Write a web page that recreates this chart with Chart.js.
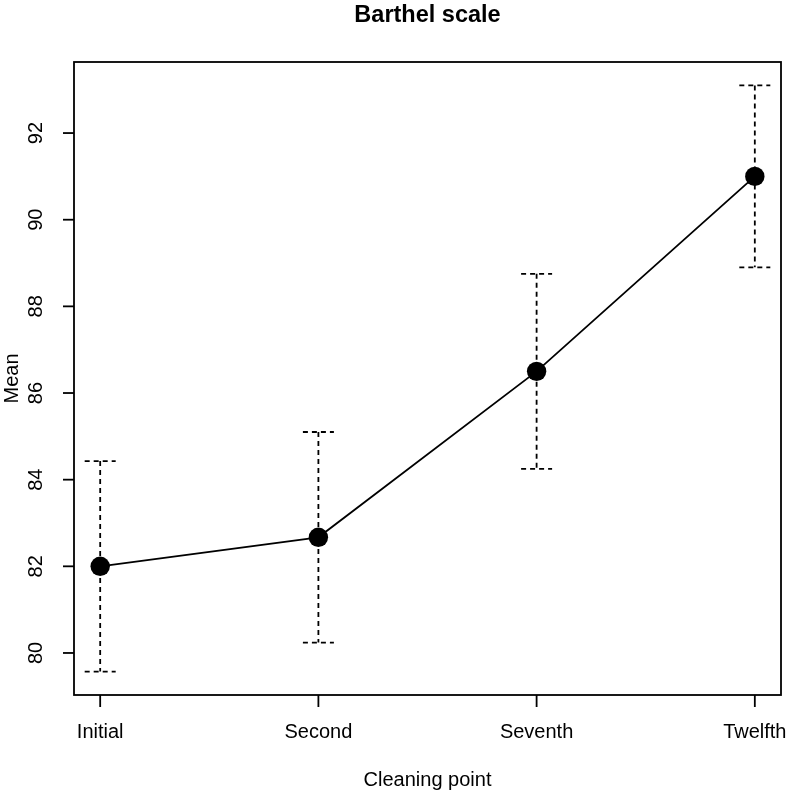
<!DOCTYPE html>
<html>
<head>
<meta charset="utf-8">
<script src="https://cdn.jsdelivr.net/npm/chart.js@4"></script>
<style>
    html, body { margin: 0; padding: 0; background: #fff; }
    #wrap { width: 787px; height: 795px; }
</style>
</head>
<body>
<div id="wrap"><canvas id="chart" width="787" height="795"></canvas></div>
<script>
    const categories = ["Initial", "Second", "Seventh", "Twelfth"];
    const meanValues = [82.0, 82.67, 86.5, 91.0];
    const lowerValues = [79.57, 80.24, 84.25, 88.9];
    const upperValues = [84.43, 85.1, 88.75, 93.1];
    const yTicks = [80, 82, 84, 86, 88, 90, 92];

    const FONT = "'Liberation Sans', Arial, Helvetica, sans-serif";

    // barras de erro tracejadas
    const errorBars = {
        id: "errorBars",
        beforeDatasetsDraw(chart) {
            const { ctx, scales: { x, y } } = chart;
            ctx.save();
            ctx.strokeStyle = "#000";
            ctx.lineWidth = 1.8;
            ctx.setLineDash([5, 4]);
            categories.forEach((c, i) => {
                const px = x.getPixelForValue(i + 1);
                const top = y.getPixelForValue(upperValues[i]);
                const bot = y.getPixelForValue(lowerValues[i]);
                ctx.beginPath();
                ctx.moveTo(px, top); ctx.lineTo(px, bot);
                ctx.moveTo(px - 15.5, top); ctx.lineTo(px + 15.5, top);
                ctx.moveTo(px - 15.5, bot); ctx.lineTo(px + 15.5, bot);
                ctx.stroke();
            });
            ctx.restore();
        }
    };

    // caixa, eixos e textos no estilo R
    const rAxes = {
        id: "rAxes",
        afterDraw(chart) {
            const { ctx, chartArea: a, scales: { x, y } } = chart;
            ctx.save();
            ctx.strokeStyle = "#000";
            ctx.fillStyle = "#000";
            ctx.lineWidth = 1.8;
            ctx.strokeRect(a.left, a.top, a.right - a.left, a.bottom - a.top);

            ctx.font = "20px " + FONT;
            ctx.textAlign = "center";
            ctx.textBaseline = "middle";
            categories.forEach((c, i) => {
                const px = x.getPixelForValue(i + 1);
                ctx.beginPath();
                ctx.moveTo(px, a.bottom); ctx.lineTo(px, a.bottom + 12);
                ctx.stroke();
                ctx.fillText(c, px, a.bottom + 37);
            });

            yTicks.forEach(v => {
                const py = y.getPixelForValue(v);
                ctx.beginPath();
                ctx.moveTo(a.left, py); ctx.lineTo(a.left - 11, py);
                ctx.stroke();
                ctx.save();
                ctx.translate(36, py);
                ctx.rotate(-Math.PI / 2);
                ctx.fillText(String(v), 0, 0);
                ctx.restore();
            });

            ctx.fillText("Cleaning point", (a.left + a.right) / 2, 780);
            ctx.save();
            ctx.translate(12, (a.top + a.bottom) / 2);
            ctx.rotate(-Math.PI / 2);
            ctx.fillText("Mean", 0, 0);
            ctx.restore();

            ctx.font = "bold 23.5px " + FONT;
            ctx.fillText("Barthel scale", (a.left + a.right) / 2, 16);
            ctx.restore();
        }
    };

    new Chart(document.getElementById("chart").getContext("2d"), {
        type: "line",
        data: {
            datasets: [{
                data: meanValues.map((v, i) => ({ x: i + 1, y: v })),
                borderColor: "#000",
                borderWidth: 1.8,
                backgroundColor: "#000",
                pointBackgroundColor: "#000",
                pointBorderWidth: 0,
                pointRadius: 9.7,
                tension: 0,
                fill: false
            }]
        },
        options: {
            responsive: false,
            animation: false,
            devicePixelRatio: 1,
            layout: { autoPadding: false, padding: { left: 74, top: 62, right: 6, bottom: 100 } },
            plugins: { legend: { display: false }, tooltip: { enabled: false }, title: { display: false } },
            scales: {
                x: { type: "linear", min: 0.88, max: 4.12, display: false },
                y: { type: "linear", min: 79.03, max: 93.64, display: false }
            }
        },
        plugins: [errorBars, rAxes]
    });
</script>
</body>
</html>
